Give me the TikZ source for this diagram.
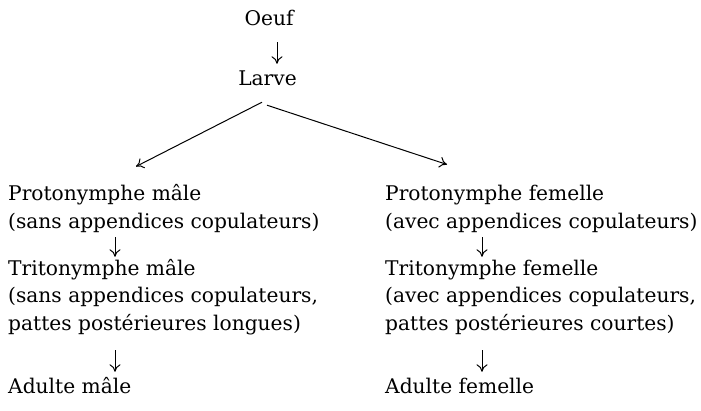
\documentclass[tikz,border=0pt]{standalone}
\usepackage{fontspec}
\setmainfont{DejaVu Serif}
\usetikzlibrary{arrows.meta,calc}
\begin{document}
\begin{tikzpicture}[x=1pt,y=-1pt,
  txt/.style={anchor=base west,inner sep=0pt,text height=15pt,text depth=5pt,font=\fontsize{20.2}{27.5}\selectfont},
  ctr/.style={txt,anchor=base},
  arr/.style={draw,line width=1pt,-{Computer Modern Rightarrow[length=7.5pt,width=11pt]}}]
\useasboundingbox[fill=white] (0,0) rectangle (701,410);
\node[ctr] (oeuf) at (269,25) {Oeuf};
\node[ctr] (larve) at (267.5,85) {Larve};
% male column
\node[txt] (pm1) at (8,200.7) {Protonymphe mâle};
\node[txt] (pm2) at (8,228.2) {(sans appendices copulateurs)};
\node[txt] (tm1) at (8,275) {Tritonymphe mâle};
\node[txt] (tm2) at (8,302.5) {(sans appendices copulateurs,};
\node[txt] (tm3) at (8,330) {pattes postérieures longues)};
\node[txt] (am) at (8,393) {Adulte mâle};
% female column
\node[txt] (pf1) at (385,200.7) {Protonymphe femelle};
\node[txt] (pf2) at (385,228.2) {(avec appendices copulateurs)};
\node[txt] (tf1) at (385,275) {Tritonymphe femelle};
\node[txt] (tf2) at (385,302.5) {(avec appendices copulateurs,};
\node[txt] (tf3) at (385,330) {pattes postérieures courtes)};
\node[txt] (af) at (385,393) {Adulte femelle};
\coordinate (axL) at (115,0);
\coordinate (axR) at (482,0);
\coordinate (axT) at (277,0);
% connectors
\draw[arr,shorten <=12pt,shorten >=6pt] (oeuf.south -| axT) -- (larve.north -| axT);
\draw[arr] ($(larve.south)+(-5.5,12)$) -- ($(pm1.north west)+(128,-19)$);
\draw[arr] ($(larve.south)+(-0.5,15)$) -- ($(pf1.north west)+(62,-21)$);
\draw[arr,shorten <=4pt,shorten >=3pt] (pm2.south -| axL) -- (tm1.north -| axL);
\draw[arr,shorten <=15pt,shorten >=6pt] (tm3.south -| axL) -- (am.north -| axL);
\draw[arr,shorten <=4pt,shorten >=3pt] (pf2.south -| axR) -- (tf1.north -| axR);
\draw[arr,shorten <=15pt,shorten >=6pt] (tf3.south -| axR) -- (af.north -| axR);
\end{tikzpicture}
\end{document}
